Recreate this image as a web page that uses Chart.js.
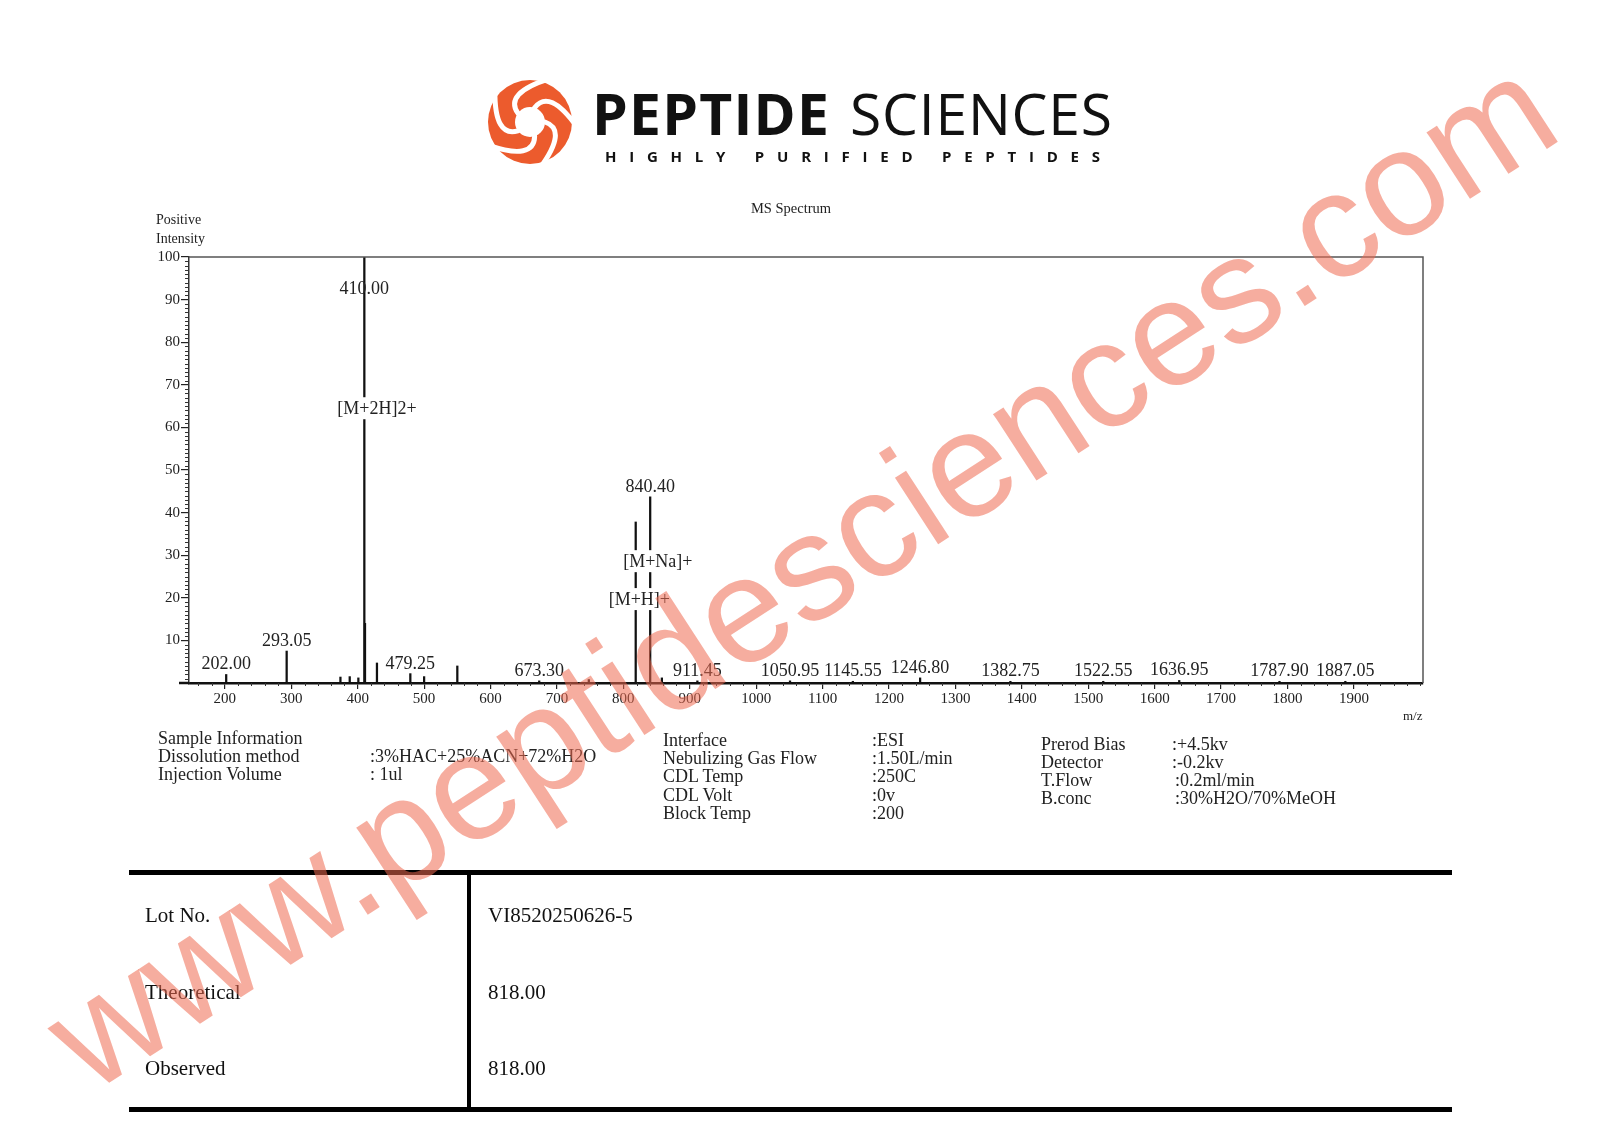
<!DOCTYPE html>
<html>
<head>
<meta charset="utf-8">
<script src="https://cdn.jsdelivr.net/npm/chart.js@4.4.1/dist/chart.umd.min.js"></script>
<style>
html, body { margin: 0; padding: 0; background: #fff; }
#page { position: relative; width: 1600px; height: 1131px; overflow: hidden; background: #fff;
        font-family: 'Liberation Serif', 'Times New Roman', serif; color: #222; }
#page canvas { position: absolute; left: 0; top: 0; }
.t { position: absolute; white-space: nowrap; line-height: 1; }
.info { font-size: 18px; }
.cell { font-size: 21px; color: #111; }
.brand { font-family: 'Open Sans', sans-serif; color: #111; }
.rule { position: absolute; background: #000; }
#wm { position: absolute; left: 800px; top: 572px; font-family: 'Liberation Sans', Arial, sans-serif;
      font-size: 150px; line-height: 1; color: rgba(238, 105, 80, 0.55); white-space: nowrap;
      transform: translate(-50%, -50%) rotate(-33deg); pointer-events: none; }
</style>
</head>
<body>
<div id="page">
  <canvas id="ms" width="1600" height="1131"></canvas>

  <!-- en-tête -->
  <svg width="96" height="96" viewBox="-48 -48 96 96" style="position:absolute;left:482px;top:74px">
    <circle r="42" fill="#EC5B2D"/>
    <circle r="15" fill="#fff"/>
    <g fill="none" stroke="#fff" stroke-width="5" stroke-linecap="round">
      <path d="M15 0 Q38 8 10 46" transform="rotate(0)"/>
      <path d="M15 0 Q38 8 10 46" transform="rotate(72)"/>
      <path d="M15 0 Q38 8 10 46" transform="rotate(144)"/>
      <path d="M15 0 Q38 8 10 46" transform="rotate(216)"/>
      <path d="M15 0 Q38 8 10 46" transform="rotate(288)"/>
    </g>
  </svg>
  <div class="t brand" id="b1" data-w="237" style="left:592px;top:85px;font-size:57px;font-weight:700;">PEPTIDE</div>
  <div class="t brand" id="b2" data-w="262" style="left:850px;top:85px;font-size:57px;font-weight:400;">SCIENCES</div>
  <div class="t brand" id="b3" data-w="495" style="left:605px;top:149px;font-size:15px;font-weight:700;">HIGHLY PURIFIED PEPTIDES</div>

  <!-- titres du graphique -->
  <div class="t" style="left:791px;top:201px;font-size:14.5px;transform:translateX(-50%);">MS Spectrum</div>
  <div class="t" style="left:156px;top:213px;font-size:14px;">Positive</div>
  <div class="t" style="left:156px;top:232px;font-size:14px;">Intensity</div>
  <div class="t" style="left:1403px;top:709px;font-size:13px;">m/z</div>

  <!-- informations -->
  <div class="t info" style="left:158px;top:729px;">Sample Information</div>
  <div class="t info" style="left:158px;top:747px;">Dissolution method</div>
  <div class="t info" style="left:158px;top:765px;">Injection Volume</div>
  <div class="t info" style="left:370px;top:747px;">:3%HAC+25%ACN+72%H2O</div>
  <div class="t info" style="left:370px;top:765px;">: 1ul</div>

  <div class="t info" style="left:663px;top:731px;">Interface</div>
  <div class="t info" style="left:663px;top:749px;">Nebulizing Gas Flow</div>
  <div class="t info" style="left:663px;top:767px;">CDL Temp</div>
  <div class="t info" style="left:663px;top:786px;">CDL Volt</div>
  <div class="t info" style="left:663px;top:804px;">Block Temp</div>
  <div class="t info" style="left:872px;top:731px;">:ESI</div>
  <div class="t info" style="left:872px;top:749px;">:1.50L/min</div>
  <div class="t info" style="left:872px;top:767px;">:250C</div>
  <div class="t info" style="left:872px;top:786px;">:0v</div>
  <div class="t info" style="left:872px;top:804px;">:200</div>

  <div class="t info" style="left:1041px;top:735px;">Prerod Bias</div>
  <div class="t info" style="left:1041px;top:753px;">Detector</div>
  <div class="t info" style="left:1041px;top:771px;">T.Flow</div>
  <div class="t info" style="left:1041px;top:789px;">B.conc</div>
  <div class="t info" style="left:1172px;top:735px;">:+4.5kv</div>
  <div class="t info" style="left:1172px;top:753px;">:-0.2kv</div>
  <div class="t info" style="left:1175px;top:771px;">:0.2ml/min</div>
  <div class="t info" style="left:1175px;top:789px;">:30%H2O/70%MeOH</div>

  <!-- tableau -->
  <div class="rule" style="left:129px;top:870px;width:1323px;height:5px;"></div>
  <div class="rule" style="left:129px;top:1107px;width:1323px;height:5px;"></div>
  <div class="rule" style="left:467px;top:872px;width:4px;height:237px;"></div>
  <div class="t cell" style="left:145px;top:905px;">Lot No.</div>
  <div class="t cell" style="left:145px;top:982px;">Theoretical</div>
  <div class="t cell" style="left:145px;top:1058px;">Observed</div>
  <div class="t cell" style="left:488px;top:905px;">VI8520250626-5</div>
  <div class="t cell" style="left:488px;top:982px;">818.00</div>
  <div class="t cell" style="left:488px;top:1058px;">818.00</div>

  <div id="wm">www.peptidesciences.com</div>
</div>

<script>
const peakMz = [202.00, 293.05, 374, 388, 401, 410.00, 411.0, 429, 479.25, 500, 550,
                673.30, 748, 818.6, 840.40, 858, 911.45, 1050.95, 1145.55, 1246.80,
                1382.75, 1522.55, 1636.95, 1787.90, 1887.05];
const peakIntensity = [2.0, 7.5, 1.4, 1.5, 1.2, 100, 14, 4.7, 2.2, 1.5, 4.0,
                       0.5, 0.8, 37.8, 43.7, 1.2, 0.5, 0.5, 0.4, 1.2,
                       0.4, 0.4, 0.6, 0.4, 0.4];
const peakLabels = ['202.00', '293.05', '410.00', '479.25', '673.30', '840.40', '911.45',
                    '1050.95', '1145.55', '1246.80', '1382.75', '1522.55', '1636.95',
                    '1787.90', '1887.05'];
const ionNames = ['[M+2H]2+', '[M+Na]+', '[M+H]+'];
const ionMz = [410.00, 840.40, 818.6];
const ionLevel = [64.5, 28.6, 19.7];
const xTicks = [200, 300, 400, 500, 600, 700, 800, 900, 1000, 1100, 1200, 1300, 1400, 1500, 1600, 1700, 1800, 1900];
const yTicks = [10, 20, 30, 40, 50, 60, 70, 80, 90, 100];

const serif = '"Liberation Serif", "Times New Roman", serif';

// petits traits, cadre, étiquettes des pics
const decor = {
    id: 'decor',
    afterDraw(chart) {
        const { ctx, chartArea: a, scales: { x, y } } = chart;
        ctx.save();

        // cadre haut / droite
        ctx.strokeStyle = '#555';
        ctx.lineWidth = 1.5;
        ctx.beginPath();
        ctx.moveTo(a.left, a.top);
        ctx.lineTo(a.right, a.top);
        ctx.lineTo(a.right, a.bottom);
        ctx.stroke();

        // ligne de base qui dépasse à gauche
        ctx.strokeStyle = '#111';
        ctx.lineWidth = 2.5;
        ctx.beginPath();
        ctx.moveTo(a.left - 10, a.bottom);
        ctx.lineTo(a.left, a.bottom);
        ctx.stroke();

        // graduations secondaires
        ctx.strokeStyle = '#333';
        ctx.lineWidth = 1;
        ctx.beginPath();
        for (let v = 160; v <= 2000; v += 20) {
            if (v % 100 === 0 && v >= 200 && v <= 1900) continue;
            const px = Math.round(x.getPixelForValue(v)) + 0.5;
            ctx.moveTo(px, a.bottom);
            ctx.lineTo(px, a.bottom + 3);
        }
        for (let v = 1; v < 100; v++) {
            if (v % 10 === 0) continue;
            const py = Math.round(y.getPixelForValue(v)) + 0.5;
            ctx.moveTo(a.left, py);
            ctx.lineTo(a.left - 4, py);
        }
        ctx.stroke();

        // valeurs m/z au-dessus des pics
        ctx.font = '18px ' + serif;
        ctx.fillStyle = '#222';
        ctx.textAlign = 'center';
        ctx.textBaseline = 'alphabetic';
        peakLabels.forEach(txt => {
            const m = parseFloat(txt);
            const i = peakMz.indexOf(m);
            const h = i >= 0 ? peakIntensity[i] : 0;
            const px = x.getPixelForValue(m);
            const base = Math.max(y.getPixelForValue(h) - 5, a.top + 37);
            ctx.fillText(txt, px, base);
        });

        // noms des ions, sur fond blanc
        ctx.textAlign = 'left';
        ionNames.forEach((txt, i) => {
            const left = x.getPixelForValue(ionMz[i]) - 27;
            const cy = y.getPixelForValue(ionLevel[i]);
            const w = ctx.measureText(txt).width;
            ctx.fillStyle = '#fff';
            ctx.fillRect(left - 1, cy - 11, w + 2, 22);
            ctx.fillStyle = '#222';
            ctx.fillText(txt, left, cy + 6);
        });

        ctx.restore();
    }
};

function fitBrand() {
    document.querySelectorAll('.brand').forEach(el => {
        const target = +el.dataset.w;
        const n = el.textContent.length;
        el.style.letterSpacing = '0px';
        const w = el.getBoundingClientRect().width;
        el.style.letterSpacing = ((target - w) / (n - 1)) + 'px';
    });
}

function draw() {
    fitBrand();
    const ctx = document.getElementById('ms').getContext('2d');
    new Chart(ctx, {
        type: 'bar',
        data: {
            datasets: [{
                data: peakMz.map((m, i) => ({ x: m, y: peakIntensity[i] })),
                backgroundColor: '#111',
                barThickness: 1.6,
                borderWidth: 0
            }]
        },
        options: {
            responsive: false,
            maintainAspectRatio: false,
            animation: false,
            events: [],
            layout: { padding: { left: 149, top: 257, right: 177, bottom: 418 } },
            plugins: {
                legend: { display: false },
                tooltip: { enabled: false }
            },
            scales: {
                x: {
                    type: 'linear',
                    min: 146,
                    max: 2004,
                    offset: false,
                    afterBuildTicks: s => { s.ticks = xTicks.map(v => ({ value: v })); },
                    afterFit: s => { s.height = 30; },
                    grid: { offset: false, drawOnChartArea: false, tickLength: 6, color: '#222', lineWidth: 1.2 },
                    border: { color: '#111', width: 2.5 },
                    ticks: { font: { family: serif, size: 15 }, color: '#222', padding: 1, maxRotation: 0, autoSkip: false,
                             callback: v => String(v) }
                },
                y: {
                    min: 0,
                    max: 100,
                    afterBuildTicks: s => { s.ticks = yTicks.map(v => ({ value: v })); },
                    afterFit: s => { s.width = 40; },
                    grid: { drawOnChartArea: false, tickLength: 8, color: '#222', lineWidth: 1.2 },
                    border: { color: '#333', width: 1.5 },
                    ticks: { font: { family: serif, size: 15 }, color: '#222', padding: 1, callback: v => String(v) }
                }
            }
        },
        plugins: [decor]
    });
}

if (document.fonts && document.fonts.ready) {
    document.fonts.load('18px "Liberation Serif"').then(() => document.fonts.load('700 57px "Open Sans"')).then(draw, draw);
} else {
    draw();
}
</script>
</body>
</html>
